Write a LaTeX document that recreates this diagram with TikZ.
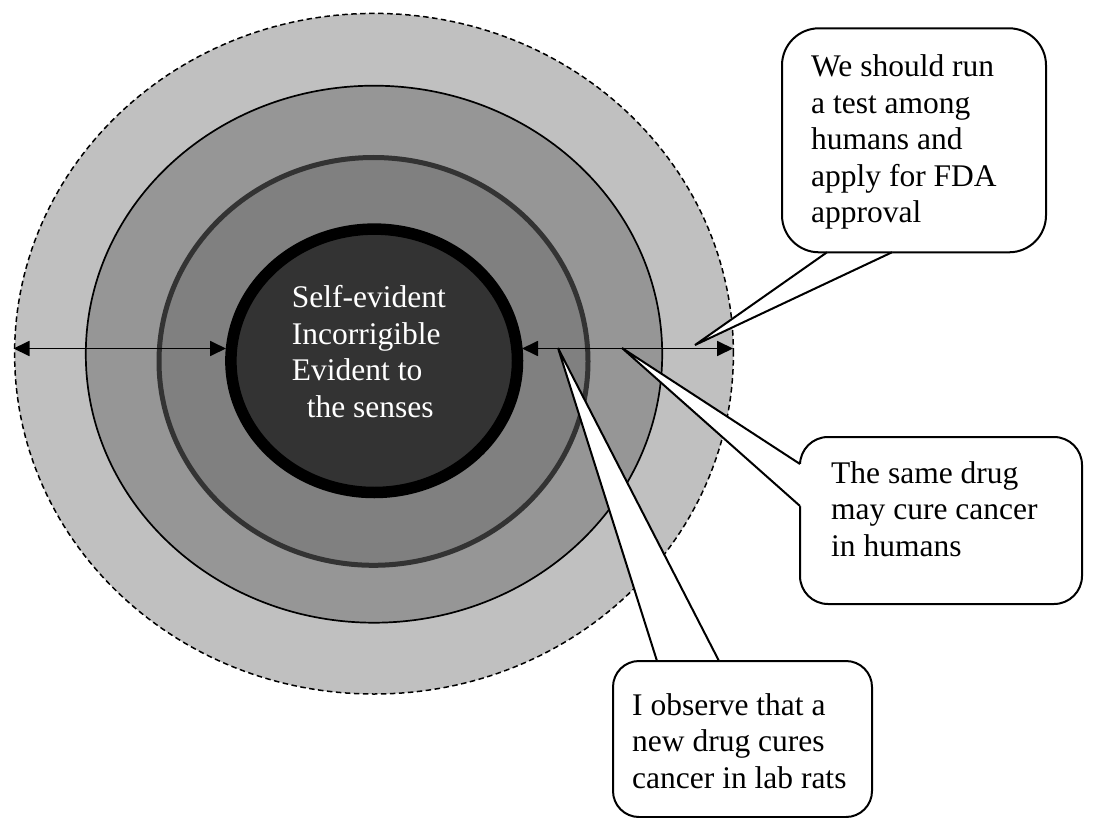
\documentclass[tikz,border=0pt]{standalone}
\usepackage{fontspec}
\setmainfont{Liberation Serif}
\usetikzlibrary{arrows.meta}
\definecolor{ringA}{HTML}{C0C0C0}
\definecolor{ringB}{HTML}{969696}
\definecolor{ringC}{HTML}{808080}
\definecolor{coreD}{HTML}{333333}
\newcommand\mlines[1]{\begin{tabular}[t]{@{}l@{}}#1\end{tabular}}
\begin{document}
\begin{tikzpicture}[x=1pt,y=-1pt,
  txt/.style={font=\fontsize{31.5}{36.5}\selectfont, inner sep=0pt, anchor=base west},
  cbox/.style={draw=black, fill=white, line width=2pt, inner sep=0pt},
  tailline/.style={draw=black, line width=2pt},
  dbl/.style={line width=1.8pt, {Triangle[length=16pt,width=15pt]}-{Triangle[length=16pt,width=15pt]}}
]
\useasboundingbox (0,0) rectangle (1094,818);

% concentric rings
\draw[fill=ringA, line width=1.5pt, dash pattern=on 5.5pt off 3.5pt] (374,353.7) ellipse [x radius=359.4pt, y radius=340.3pt];
\draw[fill=ringB, line width=1.7pt] (374,354.2) ellipse [x radius=288.2pt, y radius=268.5pt];
\draw[fill=ringC, draw=coreD, line width=5pt] (373.5,361.4) ellipse [x radius=214.5pt, y radius=203.9pt];
\draw[fill=coreD, draw=black, line width=11.5pt] (374.2,360.8) ellipse [x radius=143.3pt, y radius=131.7pt];

\node[txt, text=white] (core) at (291.7,307.7) {\mlines{Self-evident\\Incorrigible\\Evident to\\\hspace*{15pt}the senses}};

% callout 3 (top right)
\node[cbox, minimum width=264pt, minimum height=224pt, rounded corners=37pt] (box3) at (914,140.3) {};
\coordinate (b3a) at (827,252.3);
\coordinate (b3b) at (892,252.3);
\coordinate (tip3) at (695,345);
\fill[white] (b3a) -- (tip3) -- (b3b) -- ([yshift=-4pt]b3b) -- ([yshift=-4pt]b3a) -- cycle;
\draw[tailline] (b3a) -- (tip3) -- (b3b);
\node[txt] (t3) at (811,77) {\mlines{We should run\\a test among\\humans and\\apply for FDA\\approval}};

% callout 2 (middle right)
\node[cbox, minimum width=282pt, minimum height=167pt, rounded corners=28pt] (box2) at (941,520.5) {};
\coordinate (b2a) at (800,464);
\coordinate (b2b) at (800,506);
\coordinate (tip2) at (622,348);
\fill[white] (b2a) -- (tip2) -- (b2b) -- ([xshift=4pt]b2b) -- ([xshift=4pt]b2a) -- cycle;
\draw[tailline] (b2a) -- (tip2) -- (b2b);
\node[txt] (t2) at (831,483) {\mlines{The same drug\\may cure cancer\\in humans}};

% callout 1 (bottom)
\node[cbox, minimum width=259pt, minimum height=156pt, rounded corners=26pt] (box1) at (742.5,739) {};
\coordinate (b1a) at (657,661);
\coordinate (b1b) at (719,661);
\coordinate (tip1) at (558,348);
\fill[white] (b1a) -- (tip1) -- (b1b) -- ([yshift=4pt]b1b) -- ([yshift=4pt]b1a) -- cycle;
\draw[tailline] (b1a) -- (tip1) -- (b1b);
\node[txt] (t1) at (632,715) {\mlines{I observe that a\\new drug cures\\cancer in lab rats}};

% double arrows
\coordinate (la) at (13.5,348.5);
\coordinate (lb) at (226,348.5);
\coordinate (ra) at (522,348.5);
\coordinate (rb) at (733,348.5);
\draw[dbl] (la) -- (lb);
\draw[dbl] (ra) -- (rb);
\end{tikzpicture}
\end{document}
